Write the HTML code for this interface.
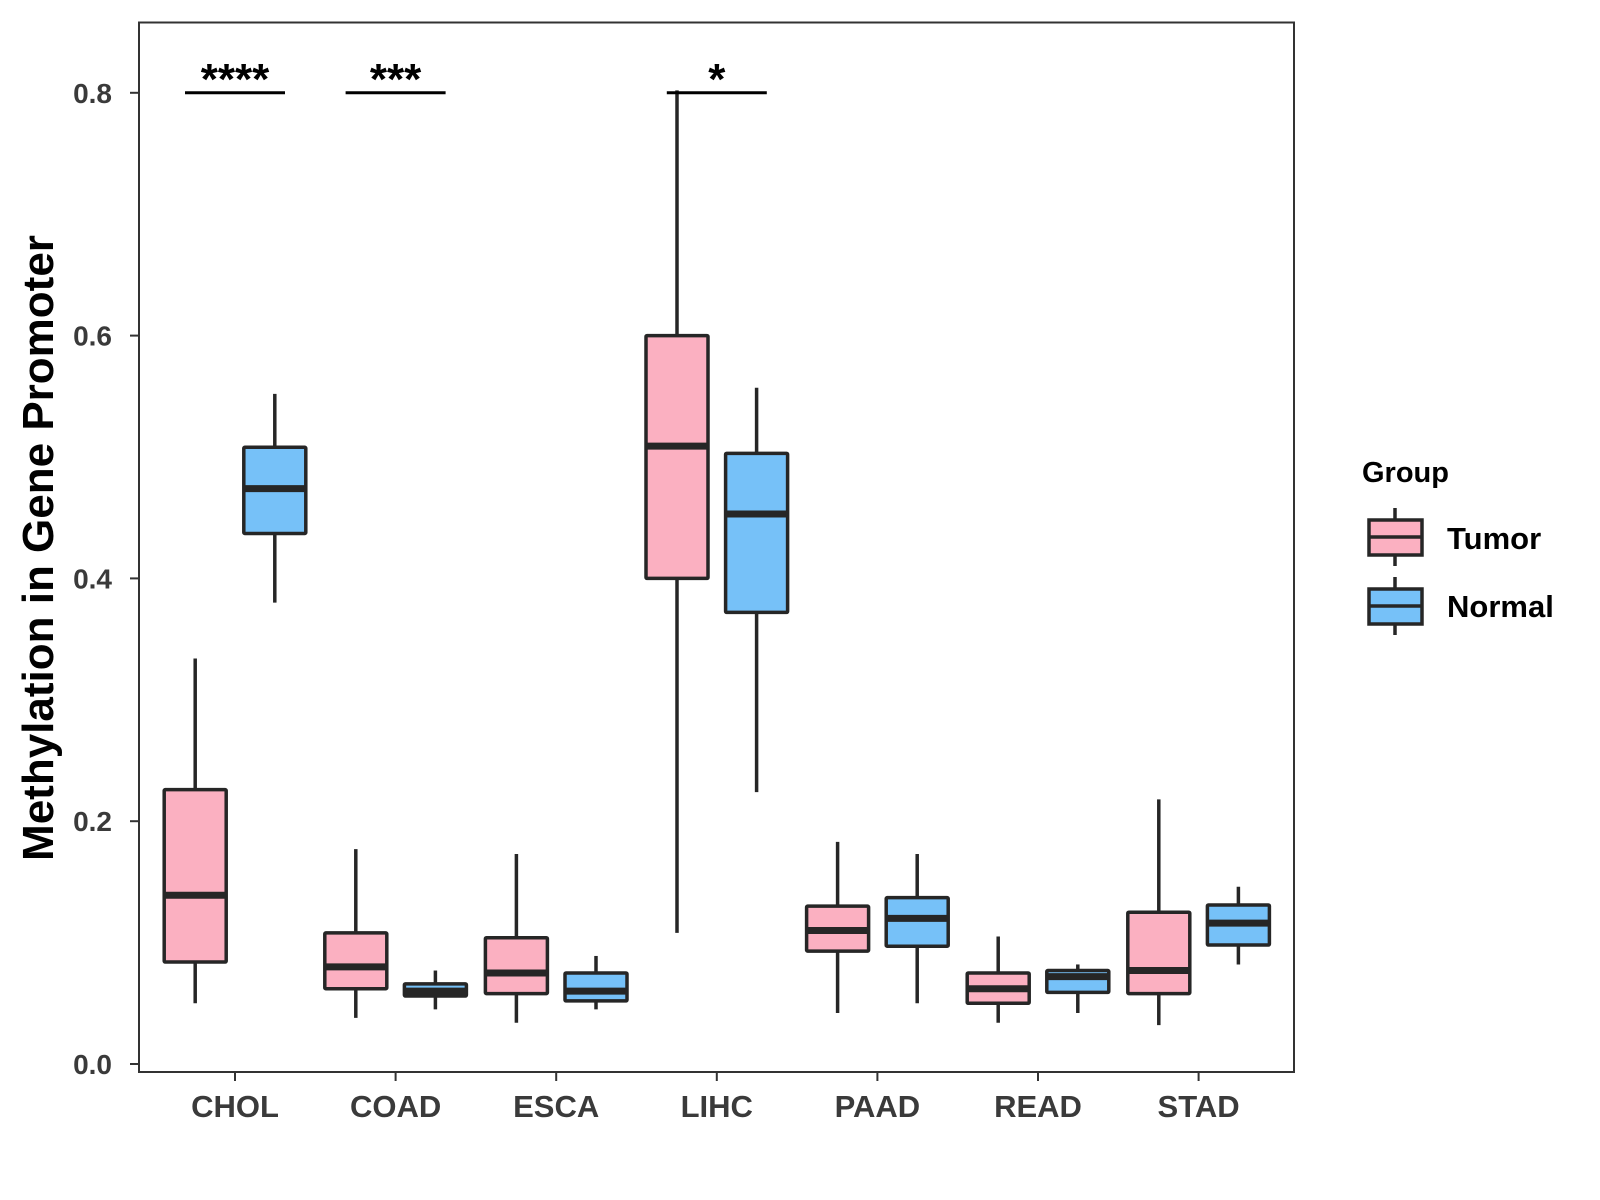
<!DOCTYPE html>
<html><head><meta charset="utf-8"><style>
html,body{margin:0;padding:0;background:#fff;}
svg{display:block;font-family:"Liberation Sans",Arial,sans-serif;}
</style></head><body>
<svg id="chart" width="1600" height="1200" viewBox="0 0 1600 1200" xmlns="http://www.w3.org/2000/svg">
<rect width="1600" height="1200" fill="#fff"/>
<g id="marks"></g>
<rect x="139" y="22.5" width="1155" height="1049.5" fill="none" stroke="#333" stroke-width="2"/>
<g id="axes"></g>
<text transform="translate(53,548) rotate(-90)" text-anchor="middle" font-size="44" font-weight="bold" fill="#000">Methylation in Gene Promoter</text>
<g>
<text x="1362" y="482" font-size="29" font-weight="bold" fill="#000">Group</text>
<g>
<line x1="1395" y1="508" x2="1395" y2="566" stroke="#262626" stroke-width="3.5"/>
<rect x="1369" y="520" width="53" height="35" fill="#FBB0C1" stroke="#262626" stroke-width="3.5"/>
<line x1="1369" y1="537" x2="1422" y2="537" stroke="#262626" stroke-width="3.5"/>
<text x="1447" y="549" font-size="31" font-weight="bold" fill="#000">Tumor</text>
</g>
<g>
<line x1="1395" y1="577" x2="1395" y2="635" stroke="#262626" stroke-width="3.5"/>
<rect x="1369" y="589" width="53" height="35" fill="#76C1F8" stroke="#262626" stroke-width="3.5"/>
<line x1="1369" y1="606" x2="1422" y2="606" stroke="#262626" stroke-width="3.5"/>
<text x="1447" y="617" font-size="31" font-weight="bold" fill="#000">Normal</text>
</g>
</g>
</svg>
<script>
const categories = ["CHOL","COAD","ESCA","LIHC","PAAD","READ","STAD"];
// [low, q1, median, q3, high]
const tumorStats = [
 [0.050,0.084,0.139,0.226,0.334],
 [0.038,0.062,0.080,0.108,0.177],
 [0.034,0.058,0.075,0.104,0.173],
 [0.108,0.400,0.509,0.600,0.802],
 [0.042,0.093,0.110,0.130,0.183],
 [0.034,0.050,0.062,0.075,0.105],
 [0.032,0.058,0.077,0.125,0.218]
];
const normalStats = [
 [0.380,0.437,0.474,0.508,0.552],
 [0.045,0.056,0.060,0.066,0.077],
 [0.045,0.052,0.060,0.075,0.089],
 [0.224,0.372,0.453,0.503,0.557],
 [0.050,0.097,0.120,0.137,0.173],
 [0.042,0.059,0.072,0.077,0.082],
 [0.082,0.098,0.116,0.131,0.146]
];
const yTicks = [0.0,0.2,0.4,0.6,0.8];
const yTickLabels = ["0.0","0.2","0.4","0.6","0.8"];
const sigCategories = ["CHOL","COAD","LIHC"];
const sigLabels = ["****","***","*"];
const sigY = 0.8;

const NS="http://www.w3.org/2000/svg";
function yScale(v){return 1064 - v*1214;}
function xScale(c){return 235 + categories.indexOf(c)*160.6;}
function mk(tag,attrs,parent){const e=document.createElementNS(NS,tag);for(const k in attrs)e.setAttribute(k,attrs[k]);parent.appendChild(e);return e;}
const marks=document.getElementById('marks');
const axes=document.getElementById('axes');
function drawBox(cx,s,fill,name){
  const g=mk('g',{},marks);
  
  
  const w=62;
  mk('line',{x1:cx,x2:cx,y1:yScale(s[4]),y2:yScale(s[0]),stroke:'#262626','stroke-width':3.5},g);
  mk('rect',{x:cx-w/2,y:yScale(s[3]),width:w,height:yScale(s[1])-yScale(s[3]),fill:fill,stroke:'#262626','stroke-width':3.5,rx:1},g);
  mk('line',{x1:cx-w/2,x2:cx+w/2,y1:yScale(s[2]),y2:yScale(s[2]),stroke:'#262626','stroke-width':7},g);
}
categories.forEach((c,i)=>{
  drawBox(xScale(c)-39.8,tumorStats[i],'#FBB0C1','box-tumor-'+c.toLowerCase());
  drawBox(xScale(c)+39.8,normalStats[i],'#76C1F8','box-normal-'+c.toLowerCase());
  const t=mk('line',{x1:xScale(c),x2:xScale(c),y1:1072,y2:1081,stroke:'#333','stroke-width':2},axes);
  
  
  const l=mk('text',{x:xScale(c),y:1117,'text-anchor':'middle','font-size':31,'font-weight':'bold',fill:'#3a3a3a'},axes);
  
  
  l.textContent=c;
});
yTicks.forEach((v,i)=>{
  const t=mk('line',{x1:130,x2:139,y1:yScale(v),y2:yScale(v),stroke:'#333','stroke-width':2},axes);
  
  
  const l=mk('text',{x:112,y:yScale(v)+10,'text-anchor':'end','font-size':28,'font-weight':'bold',fill:'#3a3a3a'},axes);
  
  
  l.textContent=yTickLabels[i];
});
sigCategories.forEach((c,i)=>{
  const x=xScale(c), y=yScale(sigY);
  const ln=mk('line',{x1:x-50,x2:x+50,y1:y,y2:y,stroke:'#000','stroke-width':3},marks);
  
  
  const tx=mk('text',{x:x,y:y+1,'text-anchor':'middle','font-size':44,'font-weight':'bold',fill:'#000'},marks);
  
  
  tx.textContent=sigLabels[i];
});
</script>
</body></html>
